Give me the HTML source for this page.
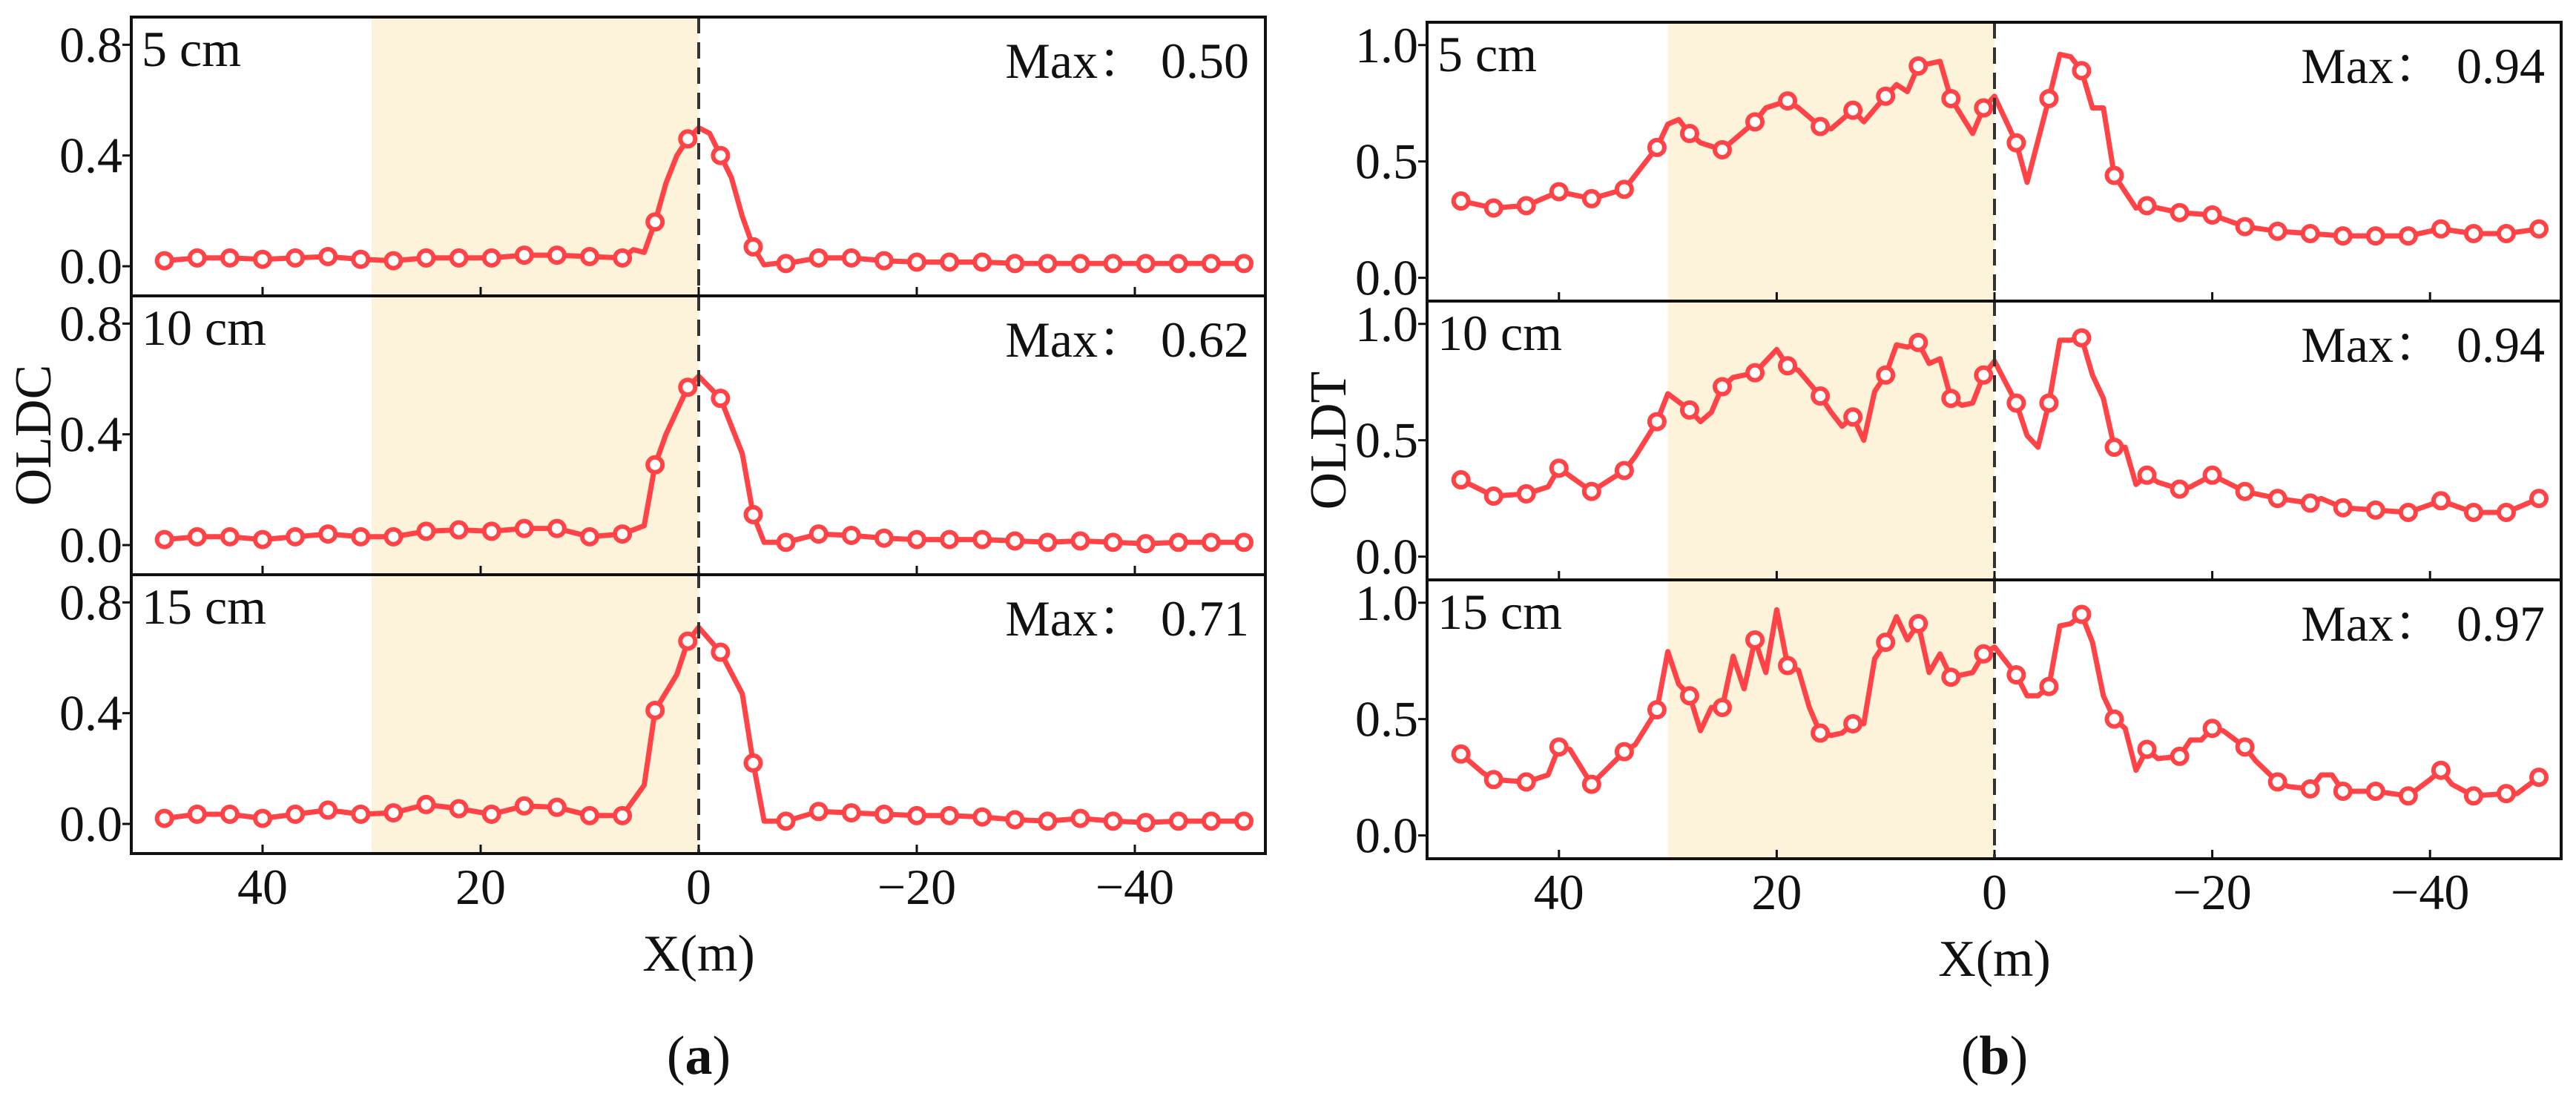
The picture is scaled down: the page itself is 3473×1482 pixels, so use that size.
<!DOCTYPE html>
<html><head><meta charset="utf-8"><style>
html,body{margin:0;padding:0;background:#fff;}
svg{display:block;}
svg text{font-family:"Liberation Serif","Noto Serif CJK SC",serif;}
</style></head><body>
<svg id="fig" width="3473" height="1482" viewBox="0 0 3473 1482" xmlns="http://www.w3.org/2000/svg" font-family="Liberation Serif, Noto Serif CJK SC, serif"></svg>
<script>
// ---- data ----
const depthLabels = ["5 cm","10 cm","15 cm"];
const maxLabelsA = ["0.50","0.62","0.71"];
const maxLabelsB = ["0.94","0.94","0.97"];
const xTicks = [40,20,0,-20,-40];
const yTicksA = [0.0,0.4,0.8];
const yTicksB = [0.0,0.5,1.0];

const a5x = [49,46,43,40,37,34,31,28,25,22,19,16,13,10,7,6,5,4,3,2,1,0,-1,-2,-3,-4,-5,-6,-7,-8,-11,-14,-17,-20,-23,-26,-29,-32,-35,-38,-41,-44,-47,-50];
const a5y = [.02,.03,.03,.025,.03,.035,.025,.02,.03,.03,.03,.04,.04,.035,.03,.06,.05,.16,.30,.40,.46,.50,.48,.40,.32,.18,.07,.005,.01,.01,.03,.03,.02,.015,.015,.015,.01,.01,.01,.01,.01,.01,.01,.01];
const a10x = [49,46,43,40,37,34,31,28,25,22,19,16,13,10,7,5,4,3,1,0,-2,-4,-5,-6,-8,-11,-14,-17,-20,-23,-26,-29,-32,-35,-38,-41,-44,-47,-50];
const a10y = [.02,.03,.03,.02,.03,.04,.03,.03,.05,.055,.05,.06,.06,.03,.04,.07,.29,.40,.57,.61,.53,.33,.11,.01,.01,.04,.035,.025,.02,.02,.02,.015,.01,.015,.01,.005,.01,.01,.01];
const a15x = [49,46,43,40,37,34,31,28,25,22,19,16,13,10,7,5,4,2,1,0,-2,-4,-5,-6,-7,-8,-11,-14,-17,-20,-23,-26,-29,-32,-35,-38,-41,-44,-47,-50];
const a15y = [.02,.035,.035,.02,.035,.05,.035,.04,.07,.055,.035,.065,.06,.03,.03,.14,.41,.54,.66,.71,.62,.47,.22,.01,.01,.01,.045,.04,.035,.03,.03,.025,.015,.01,.02,.01,.005,.01,.01,.01];

const b5x = [49,46,43,40,37,34,31,30,29,28,27,25,24,22,21,19,18,16,15,13,12,10,9,8,7,5,4,2,1,0,-2,-3,-5,-6,-7,-8,-9,-10,-11,-13,-14,-17,-20,-23,-26,-29,-32,-35,-38,-41,-44,-47,-50];
const b5y = [.33,.30,.31,.37,.34,.38,.56,.66,.68,.62,.58,.55,.59,.67,.73,.76,.73,.65,.64,.72,.67,.78,.83,.80,.91,.93,.77,.62,.73,.78,.58,.41,.77,.96,.95,.89,.73,.73,.44,.30,.31,.28,.27,.22,.20,.19,.18,.18,.18,.21,.19,.19,.21];
const b10x = [49,46,43,41,40,37,34,33,31,30,28,27,26,25,24,23,22,20,19,18,16,15,14,13,12,11,10,9,8,7,6,5,4,3,2,1,0,-2,-3,-4,-5,-6,-7,-8,-9,-10,-11,-12,-13,-14,-15,-17,-18,-20,-23,-24,-26,-29,-30,-32,-35,-38,-41,-44,-47,-50];
const b10y = [.33,.26,.27,.30,.38,.28,.37,.43,.58,.70,.63,.58,.62,.73,.77,.78,.79,.89,.82,.80,.69,.62,.56,.60,.50,.71,.78,.91,.90,.92,.83,.85,.68,.65,.66,.78,.84,.66,.52,.47,.66,.93,.93,.94,.78,.68,.47,.47,.31,.35,.32,.29,.30,.35,.28,.27,.25,.23,.25,.21,.20,.19,.24,.19,.19,.25];
const b15x = [49,47,46,43,41,40,39,37,34,33,31,30,29,28,27,26,25,24,23,22,21,20,19,18,17,16,15,14,13,12,11,10,9,8,7,6,5,4,3,2,1,0,-2,-3,-4,-5,-6,-7,-8,-9,-10,-11,-12,-13,-14,-15,-17,-18,-19,-20,-21,-23,-24,-26,-27,-29,-30,-31,-32,-35,-38,-40,-41,-42,-44,-47,-48,-50];
const b15y = [.35,.27,.24,.23,.26,.38,.37,.22,.36,.39,.54,.79,.65,.60,.45,.55,.55,.77,.63,.84,.70,.97,.73,.71,.55,.44,.43,.44,.48,.48,.76,.83,.94,.84,.91,.70,.78,.68,.69,.70,.78,.81,.69,.60,.60,.64,.90,.91,.95,.83,.60,.50,.46,.28,.37,.33,.34,.41,.41,.46,.45,.38,.32,.23,.21,.20,.26,.26,.19,.19,.17,.24,.28,.22,.17,.18,.18,.25];

const seriesA = [[a5x,a5y],[a10x,a10y],[a15x,a15y]];
const seriesB = [[b5x,b5y],[b10x,b10y],[b15x,b15y]];

// ---- drawing ----
const NS = "http://www.w3.org/2000/svg";
const svg = document.getElementById("fig");
const FONT = "Liberation Serif, Noto Serif CJK SC, serif";
function mk(tag, attrs, parent){
  const e = document.createElementNS(NS, tag);
  for (const k in attrs) e.setAttribute(k, attrs[k]);
  if (tag === "text") e.setAttribute("font-family", FONT);
  (parent||svg).appendChild(e);
  return e;
}
const RED = "#ff4347";
const FS = 68;

function panelSet(cfg){
  const {left,right,top,panelH,x0,pxPerUnit,yMin,yMax,yTicks,series,maxLabels,ylabel,key} = cfg;
  const xs = v => x0 - pxPerUnit*v;
  const g = mk("g",{});
  
  
  const bottom = top + panelH*3;
  const sh = mk("rect",{x:xs(30),y:top,width:xs(0)-xs(30),height:bottom-top,fill:"#fdf2da"},g);
  
  
  for(let p=0;p<3;p++){
    const pt = top + p*panelH, pb = pt+panelH;
    const ys = v => pb - (v - yMin)/(yMax-yMin)*panelH;
    const pg = mk("g",{},g);
    
    
    yTicks.forEach(t=>{
      const y = ys(t);
      mk("line",{x1:left-12,x2:left,y1:y,y2:y,stroke:"#111","stroke-width":3},pg);
      const tx = mk("text",{x:left-12,y:y+23,"text-anchor":"end","font-size":FS,fill:"#111"},pg);
      tx.textContent = t.toFixed(1);
      
      
    });
    xTicks.forEach(t=>{
      mk("line",{x1:xs(t),x2:xs(t),y1:pb-12,y2:pb,stroke:"#111","stroke-width":3},pg);
    });
    const [sx,sy] = series[p];
    const d = sx.map((v,i)=>(i?"L":"M")+xs(v).toFixed(1)+","+ys(sy[i]).toFixed(1)).join(" ");
    const path = mk("path",{d:d,fill:"none",stroke:RED,"stroke-width":7,"stroke-linejoin":"round"},pg);
    
    
    sx.forEach((v,i)=>{
      if (Number.isInteger(v) && ((49 - v) % 3 === 0)){
        const c = mk("circle",{cx:xs(v),cy:ys(sy[i]),r:10,fill:"#fff",stroke:RED,"stroke-width":6},pg);
        
        
      }
    });
    const dl = mk("text",{x:left+14,y:pt+66,"font-size":FS,fill:"#111"},pg);
    dl.textContent = depthLabels[p];
    
    
    const ml = mk("text",{x:right-22,y:pt+82,"text-anchor":"end","font-size":FS,fill:"#111"},pg);
    ml.textContent = "Max：  " + maxLabels[p];
    ml.setAttribute('xml:space','preserve');
    
    
  }
  const dz = mk("line",{x1:xs(0),x2:xs(0),y1:top,y2:bottom,stroke:"#333","stroke-width":4,"stroke-dasharray":"22,12"},g);
  
  
  for(let p=0;p<3;p++){
    const f = mk("rect",{x:left,y:top+p*panelH,width:right-left,height:panelH,fill:"none",stroke:"#111","stroke-width":4},g);
    
    
  }
  xTicks.forEach(t=>{
    const tx = mk("text",{x:xs(t),y:bottom+68,"text-anchor":"middle","font-size":FS,fill:"#111"},g);
    tx.textContent = t<0 ? "\u2212"+(-t) : String(t);
    
    
  });
  const xl = mk("text",{x:xs(0),y:bottom+158,"text-anchor":"middle","font-size":70,fill:"#111"},g);
  xl.textContent = "X(m)";
  
  
  const yl = mk("text",{x:0,y:0,"text-anchor":"middle","font-size":70,fill:"#111",transform:`translate(${cfg.ylabelX},${(top+bottom)/2}) rotate(-90)`},g);
  yl.textContent = ylabel;
  
  
  const cap = mk("text",{x:xs(0),y:1448,"text-anchor":"middle","font-size":74,fill:"#111"},g);
  cap.innerHTML = '(<tspan font-weight="bold">'+cfg.cap+'</tspan>)';
  
  
}

panelSet({key:"oldc",left:177,right:1706,top:23,panelH:376,x0:942,pxPerUnit:14.7,yMin:-0.107,yMax:0.9,yTicks:yTicksA,series:seriesA,maxLabels:maxLabelsA,ylabel:"OLDC",ylabelX:68,cap:"a"});
panelSet({key:"oldt",left:1924,right:3453,top:30,panelH:376,x0:2689,pxPerUnit:14.68,yMin:-0.1,yMax:1.098,yTicks:yTicksB,series:seriesB,maxLabels:maxLabelsB,ylabel:"OLDT",ylabelX:1814,cap:"b"});
</script>
</body></html>
